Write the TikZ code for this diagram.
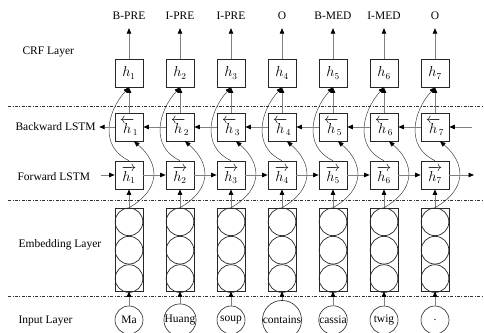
\documentclass[tikz,border=0pt]{standalone}
\usepackage{amsmath}
\usepackage{fontspec}
\setmainfont{Liberation Serif}
\usetikzlibrary{arrows.meta,positioning,calc}

\begin{document}
\begin{tikzpicture}[x=1pt,y=1pt,font=\fontsize{11.5}{13}\selectfont,
  box/.style={draw=black!85,line width=0.7pt,minimum size=28pt,inner sep=0pt,font=\fontsize{13.5}{15}\selectfont},
  emb/.style={draw=black!85,line width=0.7pt,minimum width=28pt,minimum height=83pt,inner sep=0pt},
  unit/.style={draw=black!85,circle,line width=0.7pt,minimum size=27.67pt,inner sep=0pt},
  word/.style={draw=black!85,circle,line width=0.6pt,minimum size=28pt,inner sep=0pt},
  tag/.style={anchor=base,text depth=0pt,inner ysep=8pt,inner xsep=0pt},
  layer/.style={anchor=west},
  sep/.style={black!80,line width=0.5pt,dash pattern=on 3pt off 1.5pt on 0.8pt off 1.5pt},
  >={Triangle[width=4.5pt,length=5.5pt,color=black]},
  link/.style={->,gray,line width=0.7pt},
  skip/.style={->,black!75,line width=0.5pt}]
\useasboundingbox (0,0) rectangle (484,332);
% layer separators
\draw[sep] (8,226) -- (484,226);
\draw[sep] (8,132) -- (484,132);
\draw[sep] (8,36) -- (484,36);
% layer names
\node[layer] (crfl) at (19,280) {CRF Layer};
\node[layer] (bl) at (12,205) {Backward LSTM};
\node[layer] (fl) at (14,155) {Forward LSTM};
\node[layer] (el) at (15,87) {Embedding Layer};
\node[layer] (il) at (15,11) {Input Layer};
% columns
\foreach \i/\w/\t in {1/Ma/B-PRE,2/Huang/I-PRE,3/soup/I-PRE,4/contains/O,5/cassia/B-MED,6/twig/I-MED,7/./O}{
  \pgfmathsetmacro\xx{78+51*\i}
  \node[tag] (t\i) at (\xx,312) {\t};
  \node[box] (c\i) at (\xx,259) {$h_{\i}$};
  \node[box] (b\i) at (\xx,205) {$\overleftarrow{h}_{\!\i}$};
  \node[box] (f\i) at (\xx,157) {$\overrightarrow{h_{\i}}$};
  \node[emb] (e\i) at (\xx,82.5) {};
  \node[unit,below=0pt of e\i.north] (e\i a) {};
  \node[unit,below=0pt of e\i a] (e\i b) {};
  \node[unit,below=0pt of e\i b] (e\i c) {};
  \node[word] (w\i) at (\xx,12) {\w};
  \draw[link] (c\i) -- (t\i);
  \draw[link] (b\i) -- (c\i);
  \draw[link] (e\i) -- (f\i);
  \draw[link] (w\i) -- (e\i);
  \draw[skip] (f\i.north) .. controls +(-30,14) and +(-22,-24) .. (c\i.south);
  \draw[skip] (e\i.north) .. controls +(32,18) and +(26,-22) .. ([xshift=5pt]b\i.south);
}
\foreach \i [evaluate=\i as \j using int(\i+1)] in {1,...,6}{
  \draw[link] (f\i) -- (f\j);
  \draw[link] (b\j) -- (b\i);
}
\coordinate (fin) at (101,157);
\coordinate (fout) at (474,157);
\coordinate (bin) at (472,205);
\draw[link] (fin) -- (f1);
\draw[link] (f7) -- (fout);
\draw[link] (bin) -- (b7);
\draw[link] (b1) -- (bl);
\end{tikzpicture}
\end{document}
